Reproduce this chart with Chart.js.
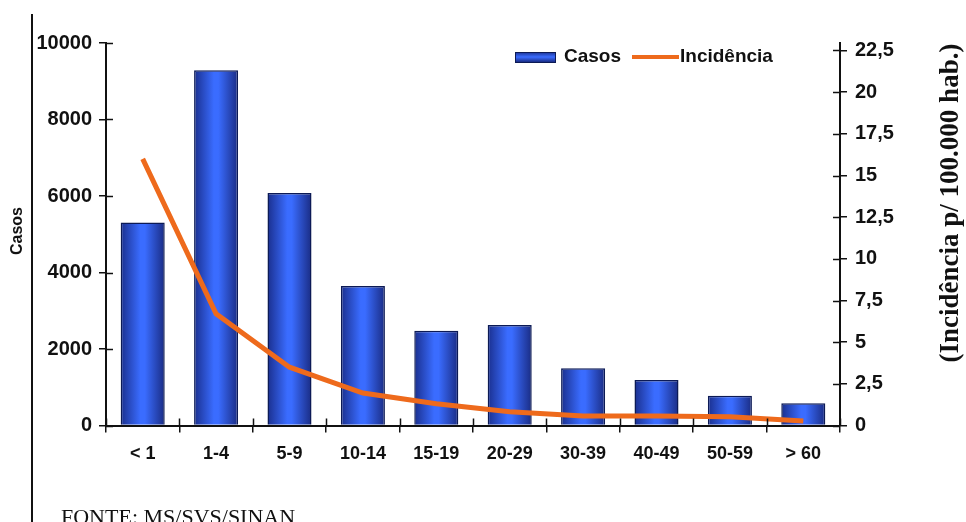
<!DOCTYPE html>
<html>
<head>
<meta charset="utf-8">
<script src="https://cdn.jsdelivr.net/npm/chart.js@4.4.1/dist/chart.umd.min.js"></script>
<style>
  html, body { margin: 0; padding: 0; background: #ffffff; }
  #wrap { width: 966px; height: 522px; position: relative; }
</style>
</head>
<body>
<div id="wrap"><canvas id="chart" width="966" height="522"></canvas></div>
<script>
// Faixas etárias
const categories = ['< 1', '1-4', '5-9', '10-14', '15-19', '20-29', '30-39', '40-49', '50-59', '> 60'];
// Número de casos por faixa etária
const casos = [5310, 9290, 6080, 3650, 2480, 2630, 1500, 1190, 780, 580];
// Incidência por 100.000 habitantes
const incidencia = [16.0, 6.7, 3.5, 1.95, 1.3, 0.83, 0.57, 0.57, 0.53, 0.27];
// Marcas dos eixos
const casosTicks = [0, 2000, 4000, 6000, 8000, 10000];
const incidenciaTicks = [0, 2.5, 5, 7.5, 10, 12.5, 15, 17.5, 20, 22.5];

const AXIS = '#111111';
const ORANGE = '#ee6a1c';
const TICK = 7;
const SANS = "'Liberation Sans', Arial, sans-serif";
const SERIF = "'Liberation Serif', 'Times New Roman', serif";
const yFont = { family: SANS, size: 20, weight: 'bold' };
const xFont = { family: SANS, size: 18, weight: 'bold' };

function barGradient(ctx) {
  if (ctx.type !== 'data') return '#2f5cf0';
  const chart = ctx.chart;
  const xs = chart.scales.x;
  if (!xs || !chart.chartArea) return '#2f5cf0';
  const cx = xs.getPixelForValue(ctx.dataIndex);
  const half = (xs.width / categories.length) * 0.3;
  const g = chart.ctx.createLinearGradient(cx - half, 0, cx + half, 0);
  g.addColorStop(0, '#1a2f8e');
  g.addColorStop(0.45, '#3a6cff');
  g.addColorStop(0.55, '#3a6cff');
  g.addColorStop(1, '#1a2c84');
  return g;
}

// Marcas cruzando os eixos, linha lateral, títulos, fonte e legenda
const decor = {
  id: 'decor',
  afterDraw(chart) {
    const c = chart.ctx;
    const a = chart.chartArea;
    const ys = chart.scales.y, y1 = chart.scales.y1, xs = chart.scales.x;
    c.save();
    c.strokeStyle = AXIS;
    c.lineWidth = 1.5;
    c.beginPath();
    casosTicks.forEach(v => {
      const p = Math.round(ys.getPixelForValue(v)) + 0.5;
      c.moveTo(a.left, p); c.lineTo(a.left + TICK, p);
    });
    incidenciaTicks.forEach(v => {
      const p = Math.round(y1.getPixelForValue(v)) + 0.5;
      c.moveTo(a.right - TICK, p); c.lineTo(a.right, p);
    });
    const step = xs.width / categories.length;
    for (let i = 0; i <= categories.length; i++) {
      const p = Math.round(xs.left + i * step) + 0.5;
      c.moveTo(p, a.bottom - TICK); c.lineTo(p, a.bottom);
    }
    c.stroke();

    // linha vertical à esquerda
    c.lineWidth = 2;
    c.beginPath();
    c.moveTo(32, 14); c.lineTo(32, 522);
    c.stroke();

    // título do eixo esquerdo
    c.fillStyle = AXIS;
    c.font = 'bold 16px ' + SANS;
    c.textAlign = 'center';
    c.textBaseline = 'middle';
    c.save();
    c.translate(18, 231);
    c.rotate(-Math.PI / 2);
    c.fillText('Casos', 0, 0);
    c.restore();

    // título do eixo direito
    c.font = 'bold 27px ' + SERIF;
    c.save();
    c.translate(951, 203);
    c.rotate(-Math.PI / 2);
    c.fillText('(Incidência p/ 100.000 hab.)', 0, 0);
    c.restore();

    // fonte dos dados
    c.font = '22px ' + SERIF;
    c.textAlign = 'left';
    c.textBaseline = 'alphabetic';
    c.fillText('FONTE: MS/SVS/SINAN', 61, 524);

    // legenda
    const ly = 57;
    const sw = c.createLinearGradient(0, 52, 0, 62);
    sw.addColorStop(0, '#1a2f8e');
    sw.addColorStop(0.5, '#3a6cff');
    sw.addColorStop(1, '#1a2c84');
    c.fillStyle = sw;
    c.fillRect(515, 52, 40, 10);
    c.strokeStyle = '#0c1a55';
    c.lineWidth = 1;
    c.strokeRect(515.5, 52.5, 40, 10);
    c.fillStyle = AXIS;
    c.font = 'bold 19px ' + SANS;
    c.textBaseline = 'middle';
    c.fillText(chart.data.datasets[1].label, 564, ly);
    c.strokeStyle = ORANGE;
    c.lineWidth = 4;
    c.beginPath();
    c.moveTo(632, ly); c.lineTo(679, ly);
    c.stroke();
    c.fillText(chart.data.datasets[0].label, 680, ly);
    c.restore();
  }
};

new Chart(document.getElementById('chart'), {
  type: 'bar',
  data: {
    labels: categories,
    datasets: [
      {
        type: 'line',
        label: 'Incidência',
        data: incidencia,
        yAxisID: 'y1',
        borderColor: ORANGE,
        borderWidth: 5,
        pointRadius: 0,
        tension: 0,
        order: 0
      },
      {
        type: 'bar',
        label: 'Casos',
        data: casos,
        yAxisID: 'y',
        backgroundColor: barGradient,
        borderColor: '#0c1a55',
        borderWidth: 1.5,
        categoryPercentage: 1,
        barPercentage: 0.6,
        order: 1
      }
    ]
  },
  options: {
    responsive: false,
    animation: false,
    layout: { padding: { top: 43, left: 0, right: 0, bottom: 0 } },
    plugins: { legend: { display: false }, tooltip: { enabled: false } },
    scales: {
      x: {
        offset: true,
        grid: { offset: true, drawOnChartArea: false, drawTicks: true, tickLength: TICK, color: AXIS, lineWidth: 1.5 },
        border: { color: AXIS, width: 2 },
        ticks: { color: AXIS, font: xFont, padding: 11, maxRotation: 0 },
        afterFit(s) { s.height = 96.5; }
      },
      y: {
        position: 'left',
        min: 0,
        max: 10000,
        grid: { drawOnChartArea: false, drawTicks: true, tickLength: TICK, color: AXIS, lineWidth: 1.5 },
        border: { color: AXIS, width: 2 },
        ticks: { color: AXIS, font: yFont, padding: 7, callback: v => String(v) },
        afterBuildTicks(s) { s.ticks = casosTicks.map(v => ({ value: v })); },
        afterFit(s) { s.width = 106; }
      },
      y1: {
        position: 'right',
        min: 0,
        max: 22.95,
        grid: { drawOnChartArea: false, drawTicks: true, tickLength: TICK, color: AXIS, lineWidth: 1.5 },
        border: { color: AXIS, width: 2 },
        ticks: {
          color: AXIS, font: yFont, padding: 8,
          callback: v => String(v).replace('.', ',')
        },
        afterBuildTicks(s) { s.ticks = incidenciaTicks.map(v => ({ value: v })); },
        afterFit(s) { s.width = 126; }
      }
    }
  },
  plugins: [decor]
});
</script>
</body>
</html>
